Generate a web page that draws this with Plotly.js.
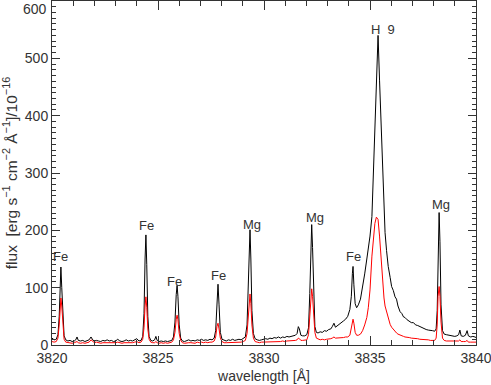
<!DOCTYPE html>
<html>
<head>
<meta charset="utf-8">
<script src="https://cdn.plot.ly/plotly-3.0.1.min.js"></script>
<style>
  html, body { margin: 0; padding: 0; background: #fff; }
  #plot { width: 491px; height: 385px; }
</style>
</head>
<body>
<div id="plot"></div>
<script>
const wavelength = [
  3820.00,3820.10,3820.20,3820.28,3820.34,3820.39,3820.42,3820.46,3820.51,3820.57,
  3820.65,3820.75,3820.85,3820.95,3821.05,3821.12,3821.18,3821.24,3821.35,3821.45,
  3821.55,3821.65,3821.75,3821.84,3821.92,3822.00,3822.10,3822.20,3822.30,3822.40,
  3822.50,3822.60,3822.70,3822.80,3822.90,3823.00,3823.10,3823.20,3823.30,3823.40,
  3823.50,3823.60,3823.70,3823.80,3823.90,3824.00,3824.10,3824.20,3824.28,3824.34,
  3824.39,3824.43,3824.47,3824.52,3824.58,3824.66,3824.75,3824.84,3824.90,3824.96,
  3825.05,3825.15,3825.25,3825.35,3825.45,3825.55,3825.65,3825.73,3825.80,3825.86,
  3825.90,3825.94,3826.00,3826.07,3826.15,3826.25,3826.35,3826.45,3826.55,3826.65,
  3826.75,3826.85,3826.95,3827.05,3827.15,3827.25,3827.35,3827.45,3827.55,3827.65,
  3827.72,3827.78,3827.83,3827.88,3827.94,3828.02,3828.12,3828.22,3828.32,3828.42,
  3828.52,3828.62,3828.72,3828.82,3828.92,3829.02,3829.12,3829.20,3829.26,3829.31,
  3829.34,3829.38,3829.43,3829.50,3829.58,3829.68,3829.78,3829.88,3829.98,3830.08,
  3830.18,3830.28,3830.38,3830.48,3830.58,3830.68,3830.78,3830.88,3830.98,3831.08,
  3831.18,3831.28,3831.38,3831.48,3831.56,3831.62,3831.67,3831.74,3831.82,3831.92,
  3832.02,3832.10,3832.16,3832.21,3832.25,3832.29,3832.34,3832.40,3832.47,3832.55,
  3832.65,3832.75,3832.85,3832.95,3833.05,3833.15,3833.22,3833.30,3833.37,3833.45,
  3833.55,3833.65,3833.75,3833.85,3833.95,3834.05,3834.12,3834.17,3834.20,3834.24,
  3834.30,3834.37,3834.45,3834.55,3834.65,3834.75,3834.85,3834.92,3835.00,3835.09,
  3835.16,3835.23,3835.30,3835.38,3835.45,3835.52,3835.59,3835.66,3835.71,3835.78,
  3835.86,3835.95,3836.02,3836.10,3836.18,3836.25,3836.32,3836.42,3836.50,3836.58,
  3836.65,3836.75,3836.85,3836.95,3837.05,3837.15,3837.25,3837.35,3837.45,3837.55,
  3837.65,3837.75,3837.85,3837.95,3838.05,3838.12,3838.17,3838.21,3838.26,3838.30,
  3838.35,3838.42,3838.50,3838.60,3838.70,3838.80,3838.90,3839.00,3839.10,3839.18,
  3839.24,3839.30,3839.40,3839.50,3839.58,3839.64,3839.75,3839.85,3839.95,3840.00
];

// total flux (black)
const fluxTotal = [
  12,9,10,18,50,110,136,100,45,16,
  9,7,8,6,7,9,14,8,7,8,
  6,7,9,14,9,7,8,7,6,8,
  7,9,7,8,6,7,10,7,6,7,
  9,7,8,7,9,11,7,8,15,55,
  150,192,140,50,15,8,7,9,15,8,
  6,7,6,7,6,7,8,14,40,88,
  104,85,35,12,7,6,7,9,7,8,
  7,9,8,10,8,9,8,10,9,12,
  25,80,106,70,22,10,8,7,9,8,
  10,8,9,10,9,11,14,35,110,190,
  201,150,60,20,11,9,8,9,10,11,
  10,12,11,13,12,14,12,14,13,15,
  14,15,16,17,20,32,28,17,16,16,
  18,30,90,180,210,170,80,32,22,21,
  23,22,25,24,27,28,32,38,31,33,
  36,38,42,45,50,62,85,125,137,105,
  72,65,70,80,100,124,150,168,190,224,
  300,380,460,540,462,385,300,224,196,165,
  137,118,102,95,84,80,68,58,55,49,
  48,44,42,39,39,35,34,32,31,29,
  27,26,26,25,24,28,60,170,231,180,
  70,25,19,18,17,16,16,15,16,18,
  26,16,15,17,25,16,14,15,14,13
];

// component flux (red)
const fluxRed = [
  6,5,6,12,35,72,82,68,30,10,
  5,4,4,3,4,5,6,4,3,4,
  3,4,5,9,6,4,5,4,3,4,
  4,4,3,4,3,4,5,4,3,4,
  4,4,3,4,5,6,4,5,10,30,
  68,84,66,28,10,5,4,4,6,4,
  3,4,3,4,3,4,5,9,22,45,
  52,44,20,8,4,3,4,4,4,4,
  3,5,4,5,4,5,4,5,5,7,
  14,32,38,28,12,6,4,4,4,4,
  5,4,5,5,5,6,8,20,55,85,
  89,72,35,12,6,5,4,5,5,5,
  5,6,5,6,6,6,6,7,6,7,
  7,7,8,8,9,12,11,8,8,8,
  9,18,50,88,98,85,48,22,12,10,
  9,10,9,10,10,11,12,14,12,12,
  12,13,13,14,14,17,30,42,45,38,
  22,17,17,19,25,35,48,65,96,155,
  190,212,223,219,190,150,105,82,68,57,
  45,36,31,27,24,21,19,17,16,15,
  14,14,13,12,12,11,11,10,10,9,
  9,9,8,8,8,12,35,85,102,85,
  40,12,8,7,7,6,6,6,6,7,
  9,6,6,6,8,5,5,5,5,5
];

// line identifications
const lineLabels = ["Fe", "Fe", "Fe", "Fe", "Mg", "Mg", "Fe", "H\u00a0\u00a09", "Mg"];
const lineWave   = [3820.42, 3824.46, 3825.80, 3827.83, 3829.43, 3832.40, 3834.20, 3835.61, 3838.35];
const lineFlux   = [154, 208, 110, 122, 210, 222, 154, 551, 245];

const xTicks = [3820, 3825, 3830, 3835, 3840];
const yTicks = [0, 100, 200, 300, 400, 500];

const ink = "#333";
const font = { family: "Liberation Sans, Arial, sans-serif", size: 14, color: ink };

const traces = [
  {
    x: wavelength, y: fluxTotal, type: "scatter", mode: "lines",
    line: { color: "#000", width: 1 }, hoverinfo: "skip"
  },
  {
    x: wavelength, y: fluxRed, type: "scatter", mode: "lines",
    line: { color: "#ff0000", width: 1 }, hoverinfo: "skip"
  }
];

const annotations = lineLabels.map((t, i) => ({
  x: lineWave[i], y: lineFlux[i], xref: "x", yref: "y",
  text: t, showarrow: false, font: { ...font, size: 13 }
}));
annotations.push({
  x: 0, y: 600, xref: "paper", yref: "y", text: "600", showarrow: false,
  xanchor: "right", yanchor: "top", xshift: -3, yshift: 2, font: font
});

const layout = {
  width: 491, height: 385,
  margin: { l: 52, r: 15, t: 1, b: 40 },
  paper_bgcolor: "#fff", plot_bgcolor: "#fff",
  showlegend: false,
  font: font,
  xaxis: {
    range: [3820, 3840], tickvals: xTicks, ticktext: xTicks.map(String),
    ticks: "inside", ticklen: 9, tickcolor: ink, tickwidth: 1,
    minor: { dtick: 1, tick0: 3820, ticks: "inside", ticklen: 5, tickcolor: ink },
    showline: true, linecolor: ink, linewidth: 1, mirror: "allticks",
    showgrid: false, zeroline: false, tickfont: font, ticklabeloverflow: "allow",
    title: { text: "wavelength [Å]", font: font, standoff: 6 }
  },
  yaxis: {
    range: [0, 600], tickvals: yTicks, ticktext: yTicks.map(String),
    ticks: "inside", ticklen: 8, tickcolor: ink, tickwidth: 1,
    minor: { dtick: 10, tick0: 0, ticks: "inside", ticklen: 4, tickcolor: ink },
    showline: true, linecolor: ink, linewidth: 1, mirror: "allticks",
    showgrid: false, zeroline: false, tickfont: font,
    title: {
      text: "flux  [erg s<sup>\u22121</sup> cm<sup>\u22122</sup> Å<sup>\u22121</sup>]/10<sup>\u221216</sup>",
      font: { ...font, size: 15.5 }, standoff: 7
    }
  },
  annotations: annotations
};

Plotly.newPlot("plot", traces, layout, { staticPlot: true, displayModeBar: false });
</script>
</body>
</html>
